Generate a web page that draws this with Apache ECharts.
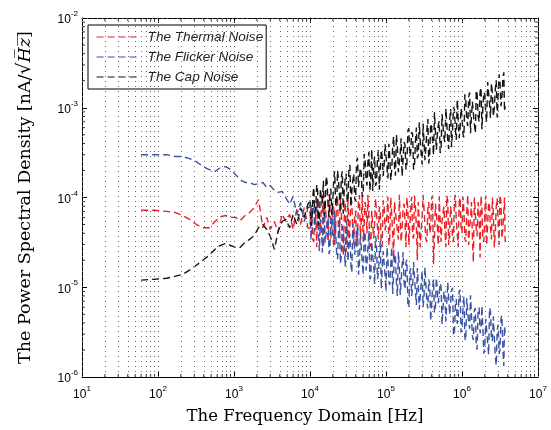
<!DOCTYPE html>
<html><head><meta charset="utf-8">
<script src="https://cdn.jsdelivr.net/npm/echarts@6/dist/echarts.min.js"></script>
<style>html,body{margin:0;padding:0;background:#fff}#c{width:551px;height:430px}</style>
</head><body><div id="c"></div>
<script>
// Frequency samples (Hz)
const freq = [60,90,130,170,210,260,320,390,470,560,660,780,900,1050,1200,1400,1600,1850,2100,2400,2700,3000,3400,3800,4300,4800,5400,6000,6700,7500,8400,9400,
10000,10600,11200,11900,12600,13300,14100,15000,15800,16800,17800,18800,20000,21100,22400,23700,25100,26600,28200,29900,31600,33500,35500,37600,39800,42200,44700,47300,50100,53100,56200,59600,63100,66800,70800,75000,79400,84100,89100,94400,
100000,106000,112000,119000,126000,133000,141000,150000,158000,168000,178000,188000,200000,211000,224000,237000,251000,266000,282000,299000,316000,335000,355000,376000,398000,422000,447000,473000,501000,531000,562000,596000,631000,668000,708000,750000,794000,841000,891000,944000,
1000000,1060000,1120000,1190000,1260000,1330000,1410000,1500000,1580000,1680000,1780000,1880000,2000000,2110000,2240000,2370000,2510000,2660000,2820000,2990000,3160000,3350000,3550000,3700000];

// extra samples lying between the high-frequency samples above (Hz)
const freqMid = [10300,10900,11550,12250,12950,13700,14550,15400,16300,17300,18300,19400,20550,21750,23050,24400,25850,27400,29050,30750,32550,34500,36550,38700,41000,43450,46000,48700,51600,54650,57900,61350,64950,68800,72900,77200,81750,86600,91750,97200,
103000,109000,115500,122500,129500,137000,145500,154000,163000,173000,183000,194000,205500,217500,230500,244000,258500,274000,290500,307500,325500,345000,365500,387000,410000,434500,460000,487000,516000,546500,579000,613500,649500,688000,729000,772000,817500,866000,917500,972000,
1030000,1090000,1155000,1225000,1295000,1370000,1455000,1540000,1630000,1730000,1830000,1940000,2055000,2175000,2305000,2440000,2585000,2740000,2905000,3075000,3255000,3450000,3625000];

const thermal = [7.2e-5,7.2e-5,7.0e-5,6.8e-5,6.3e-5,5.7e-5,5.0e-5,4.6e-5,4.6e-5,5.4e-5,6.1e-5,6.3e-5,6.0e-5,6.0e-5,5.5e-5,6.3e-5,6.8e-5,7.7e-5,9.5e-5,4.6e-5,6.0e-5,4.4e-5,5.4e-5,4.1e-5,6.5e-5,5.4e-5,6.5e-5,4.4e-5,7.4e-5,5.0e-5,7.7e-5,4.6e-5,
4.5e-5,8.9e-5,3.2e-5,6.3e-5,1.0e-4,3.7e-5,7.4e-5,2.8e-5,9.3e-5,5.0e-5,
1.07e-4,3.5e-5,6.8e-5,2.95e-5,7.9e-5,4.3e-5,1.02e-4,3.4e-5,5.9e-5,2.5e-5,
9.8e-5,4.7e-5,8.5e-5,3.1e-5,7.1e-5,3.7e-5,1.07e-4,5.4e-5,3.2e-5,8.9e-5,
4.0e-5,1.05e-4,2.8e-5,7.4e-5,5.0e-5,1.0e-4,3.4e-5,6.8e-5,2.95e-5,8.5e-5,
4.5e-5,1.02e-4,3.5e-5,6.3e-5,2.0e-5,9.3e-5,4.3e-5,1.07e-4,3.2e-5,7.9e-5,
5.4e-5,1.0e-4,2.95e-5,7.1e-5,3.7e-5,1.05e-4,4.7e-5,8.9e-5,2.8e-5,6.3e-5,
1.07e-4,3.4e-5,7.4e-5,4.0e-5,9.8e-5,1.8e-5,8.5e-5,5.0e-5,1.02e-4,3.2e-5,
6.8e-5,4.3e-5,1.05e-4,2.95e-5,7.9e-5,3.5e-5,9.3e-5,5.4e-5,2.8e-5,1.0e-4,
4.0e-5,7.1e-5,3.2e-5,1.07e-4,4.7e-5,8.9e-5,1.9e-5,9.8e-5,3.7e-5,6.3e-5,
1.05e-4,3.4e-5,7.4e-5,2.95e-5,8.9e-5,4.5e-5,1.0e-4,2.8e-5,7.9e-5,5.0e-5,
1.07e-4,3.5e-5,7.1e-5,3.2e-5];
const thermalMid = [8.5e-5,3.4e-5,6.8e-5,2.8e-5,1.0e-4,4.5e-5,1.07e-4,3.7e-5,5.9e-5,3.2e-5,
9.3e-5,5.0e-5,7.9e-5,2.95e-5,1.02e-4,4.0e-5,7.1e-5,2.24e-5,8.9e-5,4.7e-5,
3.4e-5,1.05e-4,4.3e-5,6.3e-5,2.8e-5,9.3e-5,3.7e-5,1.0e-4,5.0e-5,7.4e-5,
1.07e-4,3.2e-5,7.1e-5,3.5e-5,9.8e-5,4.7e-5,7.9e-5,2.8e-5,9.3e-5,4.3e-5,
6.3e-5,2.95e-5,1.0e-4,4.0e-5,8.9e-5,5.4e-5,3.4e-5,1.05e-4,4.5e-5,8.5e-5,
2.8e-5,7.4e-5,4.7e-5,1.02e-4,3.5e-5,7.9e-5,2.0e-5,9.3e-5,4.3e-5,1.07e-4,
5.0e-5,3.2e-5,8.9e-5,4.5e-5,1.05e-4,3.7e-5,6.8e-5,2.95e-5,9.8e-5,5.4e-5,
7.9e-5,2.8e-5,9.3e-5,4.3e-5,6.3e-5,3.2e-5,1.07e-4,4.0e-5,8.5e-5,4.7e-5,
1.02e-4,3.5e-5,7.1e-5,2.95e-5,5.9e-5,3.7e-5,1.0e-4,4.5e-5,8.9e-5,2.14e-5,
7.4e-5,3.2e-5,1.05e-4,5.0e-5,7.9e-5,3.4e-5,6.8e-5,4.0e-5,9.8e-5,2.95e-5,
8.9e-5,4.5e-5,1.0e-4];

const flicker = [3.0e-4,3.0e-4,3.0e-4,2.86e-4,2.86e-4,2.71e-4,2.51e-4,2.21e-4,2.05e-4,1.95e-4,2.15e-4,2.21e-4,2.05e-4,1.80e-4,1.58e-4,1.47e-4,1.47e-4,1.39e-4,1.43e-4,1.47e-4,1.29e-4,1.36e-4,1.20e-4,1.14e-4,1.17e-4,1.0e-4,8.4e-5,1.03e-4,6.5e-5,8.8e-5,5.4e-5,7.7e-5,
7.9e-5,3.44e-5,9.4e-5,4.28e-5,7.55e-5,2.54e-5,5.27e-5,7.57e-5,3.13e-5,5.4e-5,
2.34e-5,6.41e-5,3.5e-5,7.1e-5,2.44e-5,4.32e-5,1.83e-5,4.78e-5,3.13e-5,5.53e-5,
1.95e-5,3.95e-5,1.46e-5,4.28e-5,2.28e-5,4.84e-5,1.83e-5,2.81e-5,1.37e-5,3.92e-5,
1.82e-5,4.24e-5,1.30e-5,2.19e-5,1.07e-5,3.13e-5,1.45e-5,3.3e-5,1.61e-5,2.47e-5,
9.1e-6,2.07e-5,1.06e-5,2.82e-5,1.44e-5,2.21e-5,8.0e-6,1.66e-5,8.4e-6,2.47e-5,
9.5e-6,2.03e-5,5.94e-6,1.63e-5,9.95e-6,1.93e-5,6.34e-6,1.07e-5,5.45e-6,1.52e-5,
7.76e-6,1.69e-5,5.8e-6,1.07e-5,4.35e-6,1.22e-5,5.9e-6,1.32e-5,7.0e-6,1.0e-5,
3.9e-6,8.07e-6,4.11e-6,1.2e-5,4.88e-6,9.9e-6,2.9e-6,7.4e-6,4.85e-6,9.4e-6,
3.39e-6,7.9e-6,2.54e-6,5.26e-6,3.45e-6,8.0e-6,2.58e-6,5.87e-6,2.02e-6,5.93e-6,
3.39e-6,6.41e-6,2.26e-6,4.38e-6,1.77e-6,5.43e-6,2.52e-6,4.67e-6,1.34e-6,3.83e-6,
2.0e-6,4.86e-6,1.33e-6,3.1e-6];
const flickerMid = [3.34e-5,8.14e-5,4.15e-5,9.0e-5,3.48e-5,5.73e-5,2.43e-5,7.12e-5,3.89e-5,5.98e-5,
2.59e-5,7.25e-5,2.93e-5,4.21e-5,2.05e-5,5.87e-5,2.27e-5,4.19e-5,1.7e-5,4.75e-5,
3.19e-5,1.78e-5,5.1e-5,2.31e-5,3.82e-5,1.38e-5,4.03e-5,1.87e-5,4.16e-5,1.54e-5,
2.84e-5,1.23e-5,3.22e-5,1.84e-5,3.73e-5,1.23e-5,2.27e-5,9.6e-6,2.51e-5,1.37e-5,
2.78e-5,1.15e-5,1.77e-5,8.4e-6,2.35e-5,1.14e-5,2.49e-5,8.2e-6,1.74e-5,1.14e-5,
1.88e-5,6.32e-6,1.47e-5,8.0e-6,1.91e-5,8.9e-6,1.64e-5,5.65e-6,1.1e-5,5.98e-6,
1.67e-5,6.77e-6,1.22e-5,4.21e-6,9.8e-6,5.23e-6,1.28e-5,6.65e-6,1.1e-5,3.86e-6,
8.98e-6,4.17e-6,1.14e-5,4.95e-6,9.15e-6,3.08e-6,6.39e-6,3.91e-6,8.9e-6,3.14e-6,
6.07e-6,2.76e-6,7.54e-6,4.12e-6,8.15e-6,2.87e-6,5.57e-6,2.15e-6,5.62e-6,3.07e-6,
6.22e-6,1.82e-6,4.44e-6,2.42e-6,5.91e-6,2.68e-6,4.74e-6,1.71e-6,3.31e-6,1.8e-6,
4.4e-6,2.04e-6,3.69e-6];

const capNoise = [1.2e-5,1.23e-5,1.26e-5,1.33e-5,1.39e-5,1.55e-5,1.76e-5,2.0e-5,2.27e-5,2.64e-5,2.93e-5,3.08e-5,2.93e-5,2.78e-5,2.78e-5,3.16e-5,3.41e-5,3.78e-5,4.6e-5,5.0e-5,4.4e-5,3.7e-5,2.64e-5,4.2e-5,5.4e-5,5.7e-5,4.6e-5,6.5e-5,5.0e-5,7.7e-5,6.0e-5,8.4e-5,
9.5e-5,5.5e-5,1.3e-4,7.4e-5,1.2e-4,5.5e-5,1.0e-4,1.54e-4,7.2e-5,1.49e-4,
6.1e-5,1.25e-4,9.5e-5,1.96e-4,8.0e-5,1.54e-4,6.8e-5,1.96e-4,1.22e-4,1.85e-4,
8.9e-5,2.3e-4,1.19e-4,1.85e-4,9.1e-5,2.77e-4,1.27e-4,1.85e-4,1.07e-4,2.64e-4,
1.36e-4,3.22e-4,1.70e-4,1.18e-4,2.85e-4,1.47e-4,3.39e-4,1.24e-4,2.85e-4,2.23e-4,
3.98e-4,1.63e-4,2.85e-4,2.08e-4,4.79e-4,1.75e-4,3.76e-4,2.44e-4,4.57e-4,1.79e-4,
3.85e-4,2.33e-4,5.89e-4,3.11e-4,5.07e-4,2.23e-4,6.03e-4,2.97e-4,4.22e-4,2.33e-4,
6.46e-4,3.65e-4,7.5e-4,3.07e-4,6.03e-4,2.97e-4,9.0e-4,4.98e-4,7.08e-4,3.48e-4,
6.38e-4,4.15e-4,1.0e-3,3.48e-4,9.7e-4,5.47e-4,9.55e-4,4.39e-4,1.27e-3,5.85e-4,
7.94e-4,4.7e-4,1.27e-3,6.27e-4,1.48e-3,7.8e-4,1.13e-3,5.22e-4,1.45e-3,6.96e-4,
1.68e-3,9.9e-4,1.41e-3,6.96e-4,2.02e-3,7.72e-4,1.45e-3,9.8e-4,2.02e-3,7.9e-4,
1.91e-3,1.24e-3,2.48e-3,1.04e-3];
const capNoiseMid = [4.85e-5,1.04e-4,6.78e-5,1.39e-4,4.85e-5,1.25e-4,8.73e-5,6.22e-5,1.72e-4,7.9e-5,
1.15e-4,6.36e-5,1.64e-4,8.48e-5,2.0e-4,1.06e-4,1.72e-4,6.58e-5,1.63e-4,9.4e-5,
2.17e-4,7.9e-5,1.52e-4,9.85e-5,2.55e-4,1.31e-4,2.14e-4,1.01e-4,3.06e-4,1.58e-4,
2.58e-4,1.18e-4,3.44e-4,2.23e-4,1.35e-4,2.65e-4,1.22e-4,3.38e-4,1.74e-4,3.92e-4,
2.17e-4,3.97e-4,1.55e-4,3.75e-4,2.17e-4,5.0e-4,1.91e-4,3.12e-4,1.72e-4,4.16e-4,
2.05e-4,5.54e-4,2.86e-4,5.35e-4,2.05e-4,4.2e-4,2.73e-4,6.9e-4,3.1e-4,6.66e-4,
2.61e-4,5.6e-4,2.4e-4,6.66e-4,4.33e-4,8.88e-4,3.4e-4,6.36e-4,3.13e-4,8.48e-4,
4.58e-4,9.85e-4,4.33e-4,7.06e-4,3.64e-4,1.01e-3,5.7e-4,1.23e-3,4.58e-4,9.85e-4,
5.08e-4,1.41e-3,7.26e-4,1.33e-3,5.2e-4,1.17e-3,6.47e-4,1.56e-3,8.05e-4,1.51e-3,
5.77e-4,1.49e-3,8.24e-4,1.94e-3,1.1e-3,1.88e-3,8.05e-4,1.58e-3,7.78e-4,2.36e-3,
1.04e-3,2.13e-3,9.15e-4];

const seriesNames = ['The Thermal Noise','The Flicker Noise','The Cap Noise'];
const seriesColors = ['#ec1f26','#3a53a6','#151515'];
const xMin = 10, xMax = 1e7, yMin = 1e-6, yMax = 1e-2;

// merge both sample sets into one frequency-ordered list of [f, value]
function pairs(vals, midVals){
  const a = freq.map((f,i)=>[f, vals[i]]).concat(freqMid.map((f,i)=>[f, midVals[i]]));
  return a.sort((p,q)=>p[0]-q[0]);
}

// grid line / minor tick positions (1..9 x each decade)
function gridVals(lo, hi){
  const out=[];
  for(let d=Math.round(Math.log10(lo)); d<Math.round(Math.log10(hi)); d++){
    for(let m=1;m<=9;m++){ out.push(m*Math.pow(10,d)); }
  }
  out.push(hi);
  return out;
}
const gx = gridVals(xMin,xMax), gy = gridVals(yMin,yMax);
const minorX = gx.filter(v=>Math.abs(Math.log10(v)-Math.round(Math.log10(v)))>1e-9);
const minorY = gy.filter(v=>Math.abs(Math.log10(v)-Math.round(Math.log10(v)))>1e-9);

function expLabel(v){
  const e = Math.round(Math.log10(v));
  return '{b|10}{e|' + e + '}';
}
const rich = {
  b:{fontSize:12, fontFamily:'Liberation Sans', color:'#000', verticalAlign:'bottom', lineHeight:16},
  e:{fontSize:8, fontFamily:'Liberation Sans', color:'#000', verticalAlign:'top', lineHeight:16}
};

const chart = echarts.init(document.getElementById('c'), null, {renderer:'canvas'});
const lineStyleFor = c => ({color:c, width:1.4, type:[7,4]});
const tickSym = {symbol:'rect', silent:true, z:4, itemStyle:{color:'#000'}};

const option = {
  animation:false,
  backgroundColor:'#fff',
  grid:{left:82, right:13, top:18, bottom:52, containLabel:false},
  legend:{
    data:seriesNames,
    orient:'vertical', left:88, top:25,
    itemWidth:40, itemHeight:12, itemGap:6,
    padding:[5,3,5,8],
    backgroundColor:'#fff', borderColor:'#000', borderWidth:1,
    itemStyle:{color:'rgba(0,0,0,0)', borderWidth:0, opacity:0},
    lineStyle:{width:1.2},
    textStyle:{fontFamily:'Liberation Sans', fontStyle:'italic', fontSize:13.6, color:'#222', padding:[0,0,0,6]}
  },
  xAxis:[{
    type:'log', min:xMin, max:xMax, logBase:10,
    name:'The Frequency Domain [Hz]', nameLocation:'middle', nameGap:31,
    nameTextStyle:{fontFamily:'DejaVu Serif', fontSize:16.5, color:'#000', padding:[0,10,0,0]},
    axisLine:{lineStyle:{color:'#000', width:1}},
    axisTick:{inside:true, length:5, lineStyle:{color:'#000'}},
    axisLabel:{formatter:expLabel, rich:rich, margin:8},
    splitLine:{show:false}
  },{
    type:'log', min:xMin, max:xMax, position:'top',
    axisLine:{lineStyle:{color:'#000', width:1}},
    axisTick:{inside:true, length:5, lineStyle:{color:'#000'}},
    axisLabel:{show:false}, splitLine:{show:false}
  }],
  yAxis:[{
    type:'log', min:yMin, max:yMax, logBase:10,
    name:'{a|The Power Spectral Density [nA/}{r|√}{i|H̅z̅}{a|]}', nameLocation:'middle', nameGap:47,
    nameTextStyle:{rich:{
      a:{fontFamily:'DejaVu Serif', fontSize:17.5, color:'#000'},
      r:{fontFamily:'DejaVu Serif', fontSize:19, color:'#000'},
      i:{fontFamily:'DejaVu Serif', fontStyle:'italic', fontSize:17.5, color:'#000'}
    }},
    axisLine:{lineStyle:{color:'#000', width:1}},
    axisTick:{inside:true, length:5, lineStyle:{color:'#000'}},
    axisLabel:{formatter:expLabel, rich:rich, margin:4},
    splitLine:{show:false}
  },{
    type:'log', min:yMin, max:yMax, position:'right',
    axisLine:{lineStyle:{color:'#000', width:1}},
    axisTick:{inside:true, length:5, lineStyle:{color:'#000'}},
    axisLabel:{show:false}, splitLine:{show:false}
  }],
  series:[
    {
      name:'grid', type:'line', data:[], silent:true, z:1,
      markLine:{
        silent:true, symbol:'none', animation:false,
        label:{show:false},
        lineStyle:{color:'#6a6a6a', width:1, type:[1,4]},
        data: gx.map(v=>({xAxis:v})).concat(gy.map(v=>({yAxis:v})))
      }
    },
    // minor ticks on the four sides of the box
    Object.assign({name:'tb', type:'scatter', data:minorX.map(v=>[v,yMin]), symbolSize:[1,3], symbolOffset:[0,-1.5]}, tickSym),
    Object.assign({name:'tt', type:'scatter', data:minorX.map(v=>[v,yMax]), symbolSize:[1,3], symbolOffset:[0,1.5]}, tickSym),
    Object.assign({name:'tl', type:'scatter', data:minorY.map(v=>[xMin,v]), symbolSize:[3,1], symbolOffset:[1.5,0]}, tickSym),
    Object.assign({name:'tr', type:'scatter', data:minorY.map(v=>[xMax,v]), symbolSize:[3,1], symbolOffset:[-1.5,0]}, tickSym),
    {name:seriesNames[0], type:'line', data:pairs(thermal, thermalMid), showSymbol:false, symbol:'none', color:seriesColors[0], lineStyle:lineStyleFor(seriesColors[0]), z:3},
    {name:seriesNames[1], type:'line', data:pairs(flicker, flickerMid), showSymbol:false, symbol:'none', color:seriesColors[1], lineStyle:lineStyleFor(seriesColors[1]), z:3},
    {name:seriesNames[2], type:'line', data:pairs(capNoise, capNoiseMid), showSymbol:false, symbol:'none', color:seriesColors[2], lineStyle:lineStyleFor(seriesColors[2]), z:3}
  ]
};
chart.setOption(option);
</script>
</body></html>
